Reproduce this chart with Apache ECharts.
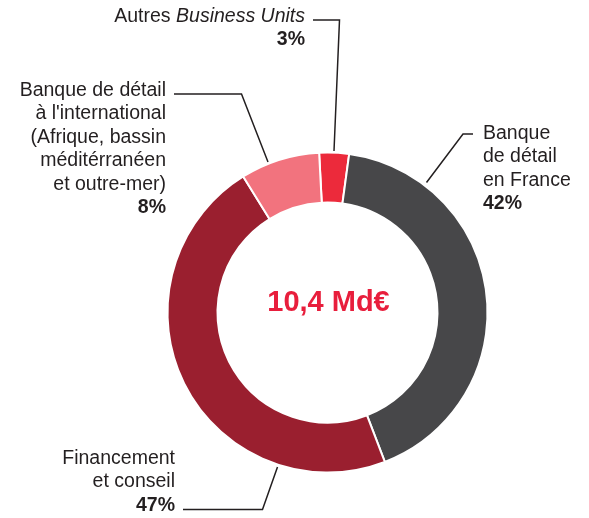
<!DOCTYPE html>
<html>
<head>
<meta charset="utf-8">
<script src="https://cdn.jsdelivr.net/npm/echarts@6/dist/echarts.min.js"></script>
<style>
  html, body { margin: 0; padding: 0; background: #ffffff; }
  #chart { width: 589px; height: 518px; }
</style>
</head>
<body>
<div id="chart"></div>
<script>
// Revenue split by business line (share of 10,4 Md€)
const categories = [
  'Autres Business Units',
  'Banque\nde détail\nen France',
  'Financement\net conseil',
  "Banque de détail\nà l'international\n(Afrique, bassin\nméditérranéen\net outre-mer)"
];
const shares = [3, 42, 47, 8];
const sliceColors = ['#ec2a3b', '#474749', '#9a1f2f', '#f2737e'];
const totalLabel = '10,4 Md€';

// Where each callout sits: text anchor, alignment, and leader polyline (slice -> label)
const callouts = [
  { x: 305, y: 5,   align: 'right', line: [[334, 151], [339.5, 20], [313, 20]] },
  { x: 483, y: 122, align: 'left',  line: [[426.5, 182.5], [463, 134], [473, 134]] },
  { x: 175, y: 447, align: 'right', line: [[277.5, 467], [262.5, 509.5], [183, 509.5]] },
  { x: 166, y: 79,  align: 'right', line: [[268, 162], [241.5, 94], [174, 94]] }
];

const FONT = '"Liberation Sans", Arial, Helvetica, sans-serif';
const LH = 23.4;
const base = { fontFamily: FONT, fontSize: 19.5, lineHeight: LH, color: '#231f20' };
const rich = {
  r:  Object.assign({}, base, { align: 'right' }),
  ri: Object.assign({}, base, { align: 'right', fontStyle: 'italic' }),
  rb: Object.assign({}, base, { align: 'right', fontWeight: 'bold' }),
  l:  Object.assign({}, base, { align: 'left' }),
  lb: Object.assign({}, base, { align: 'left', fontWeight: 'bold' })
};

function labelText(i) {
  const side = callouts[i].align === 'right' ? 'r' : 'l';
  const lines = categories[i].split('\n').map(function (ln) {
    if (ln.indexOf('Business Units') >= 0) {
      const pre = ln.replace('Business Units', '');
      return '{' + side + '|' + pre + '}{' + side + 'i|Business Units}';
    }
    return '{' + side + '|' + ln + '}';
  });
  lines.push('{' + side + 'b|' + shares[i] + '%}');
  return lines.join('\n');
}

const chart = echarts.init(document.getElementById('chart'), null, { renderer: 'canvas' });

chart.setOption({
  animation: false,
  backgroundColor: '#ffffff',
  series: [{
    type: 'pie',
    center: [327.5, 312.5],
    radius: [110, 160],
    startAngle: 93,
    clockwise: true,
    avoidLabelOverlap: false,
    silent: true,
    data: shares.map(function (v, i) {
      return { value: v, name: categories[i], itemStyle: { color: sliceColors[i] } };
    }),
    itemStyle: { borderColor: '#ffffff', borderWidth: 2 },
    label: {
      show: true,
      position: 'outside',
      formatter: function (p) { return labelText(p.dataIndex); },
      rich: rich
    },
    labelLine: {
      show: true,
      lineStyle: { color: '#231f20', width: 1.5 }
    },
    labelLayout: function (p) {
      const c = callouts[p.dataIndex];
      return {
        x: c.x,
        y: c.y,
        align: c.align,
        verticalAlign: 'top',
        labelLinePoints: c.line
      };
    }
  }],
  graphic: [{
    type: 'text',
    x: 328.5,
    y: 303,
    style: {
      text: totalLabel,
      align: 'center',
      verticalAlign: 'middle',
      font: 'bold 29px ' + FONT,
      fill: '#e81e3c'
    }
  }]
});
</script>
</body>
</html>
